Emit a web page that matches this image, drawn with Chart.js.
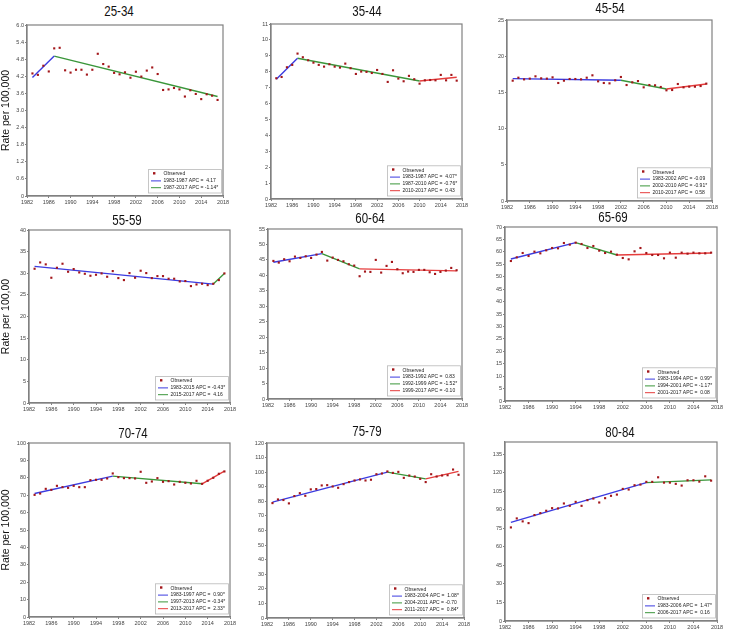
<!DOCTYPE html>
<html>
<head>
<meta charset="utf-8">
<script src="https://cdn.jsdelivr.net/npm/chart.js@4.4.1/dist/chart.umd.min.js"></script>
<style>
  body { margin: 0; background: #fff; width: 741px; height: 633px; position: relative; overflow: hidden; }
  .panel { position: absolute; }
  .title {
    position: absolute; transform: translate(-50%, -50%) scaleX(0.82); white-space: nowrap;
    font-family: "Liberation Sans", Arial, sans-serif;
    font-size: 14px; color: #111;
  }
</style>
</head>
<body>
<script>
// Years of observation (x axis)
const years = [1983, 1984, 1985, 1986, 1987, 1988, 1989, 1990, 1991, 1992,
               1993, 1994, 1995, 1996, 1997, 1998, 1999, 2000, 2001, 2002,
               2003, 2004, 2005, 2006, 2007, 2008, 2009, 2010, 2011, 2012,
               2013, 2014, 2015, 2016, 2017];

// 25-34
const obs2534 = [4.30, 4.25, 4.57, 4.37, 5.18, 5.20, 4.41, 4.33, 4.43, 4.43,
                 4.26, 4.43, 4.99, 4.63, 4.54, 4.32, 4.27, 4.34, 4.15, 4.36,
                 4.19, 4.40, 4.51, 4.28, 3.72, 3.74, 3.79, 3.74, 3.49, 3.71,
                 3.58, 3.40, 3.57, 3.52, 3.37];
const joinYears2534 = [1983, 1987, 2017];
const joinRates2534 = [4.16, 4.91, 3.49];
const apc2534 = ['1983-1987 APC =  4.17', '1987-2017 APC = -1.14*'];

// 35-44
const obs3544 = [7.59, 7.67, 8.28, 8.43, 9.14, 8.91, 8.72, 8.57, 8.43, 8.32,
                 8.47, 8.32, 8.26, 8.51, 8.22, 7.86, 8.01, 7.99, 7.92, 8.11,
                 7.86, 7.36, 8.09, 7.57, 7.40, 7.74, 7.53, 7.25, 7.46, 7.48,
                 7.46, 7.80, 7.46, 7.80, 7.44];
const joinYears3544 = [1983, 1987, 2010, 2017];
const joinRates3544 = [7.53, 8.85, 7.42, 7.65];
const apc3544 = ['1983-1987 APC =  4.07*', '1987-2010 APC = -0.76*', '2010-2017 APC =  0.43'];

// 45-54
const obs4554 = [16.62, 17.03, 16.80, 16.90, 17.22, 16.94, 16.90, 17.08, 16.30, 16.62,
                 16.85, 16.85, 16.80, 17.03, 17.36, 16.53, 16.30, 16.25, 16.67, 17.13,
                 16.02, 16.39, 16.57, 15.70, 16.02, 15.98, 15.75, 15.29, 15.33, 16.16,
                 15.70, 15.79, 15.79, 15.88, 16.21];
const joinYears4554 = [1983, 2002, 2010, 2017];
const joinRates4554 = [16.90, 16.67, 15.47, 16.16];
const apc4554 = ['1983-2002 APC = -0.09', '2002-2010 APC = -0.91*', '2010-2017 APC =  0.58'];

// 55-59
const obs5559 = [31.04, 32.50, 32.05, 28.96, 31.27, 32.20, 30.35, 30.97, 30.19, 29.88,
                 29.42, 29.65, 29.96, 29.19, 30.50, 28.88, 28.42, 30.04, 28.96, 30.58,
                 30.04, 28.88, 29.34, 29.34, 28.73, 28.73, 28.11, 28.19, 27.03, 27.41,
                 27.57, 27.26, 27.57, 28.42, 29.96];
const joinYears5559 = [1983, 2015, 2017];
const joinRates5559 = [31.58, 27.49, 29.96];
const apc5559 = ['1983-2015 APC = -0.43*', '2015-2017 APC =  4.16'];

// 60-64
const obs6064 = [44.67, 44.13, 45.21, 44.56, 46.07, 45.64, 46.18, 45.64, 46.72, 47.58,
                 44.78, 45.75, 45.00, 44.56, 43.60, 43.16, 39.72, 41.23, 41.12, 45.00,
                 40.90, 43.06, 44.35, 41.98, 40.69, 41.23, 41.12, 41.77, 41.77, 41.01,
                 40.47, 41.12, 41.55, 42.41, 41.66];
const joinYears6064 = [1983, 1992, 1999, 2017];
const joinRates6064 = [44.24, 47.04, 42.09, 41.44];
const apc6064 = ['1983-1992 APC =  0.83', '1992-1999 APC = -1.52*', '1999-2017 APC = -0.10'];

// 65-69
const obs6569 = [56.32, 57.80, 59.54, 58.33, 60.08, 59.41, 60.61, 61.55, 61.42, 63.56,
                 62.89, 63.70, 63.16, 61.55, 62.36, 60.48, 59.54, 60.08, 58.87, 57.53,
                 56.99, 60.21, 61.55, 59.54, 58.74, 58.74, 57.40, 59.68, 57.66, 59.68,
                 59.27, 59.68, 59.41, 59.41, 59.68];
const joinYears6569 = [1983, 1994, 2001, 2017];
const joinRates6569 = [57.13, 63.70, 58.74, 59.54];
const apc6569 = ['1983-1994 APC =  0.99*', '1994-2001 APC = -1.17*', '2001-2017 APC =  0.08'];

// 70-74
const obs7074 = [70.19, 70.96, 73.65, 73.08, 75.38, 74.62, 74.23, 75.38, 74.62, 74.62,
                 78.65, 78.85, 78.85, 79.62, 82.50, 80.38, 79.81, 79.81, 79.62, 83.46,
                 77.12, 77.88, 79.81, 77.69, 78.08, 76.15, 77.69, 77.12, 76.73, 78.27,
                 76.54, 78.30, 80.00, 82.31, 83.65];
const joinYears7074 = [1983, 1997, 2013, 2017];
const joinRates7074 = [70.96, 80.96, 76.54, 83.85];
const apc7074 = ['1983-1997 APC =  0.90*', '1997-2013 APC = -0.34*', '2013-2017 APC =  2.33*'];

// 75-79
const obs7579 = [78.8, 81.3, 80.9, 78.6, 83.6, 85.6, 83.8, 88.2, 88.4, 90.9,
                 91.1, 90.2, 89.3, 91.8, 93.2, 94.3, 95.0, 94.3, 94.8, 98.6,
                 99.1, 100.5, 99.5, 100.2, 96.1, 97.7, 97.0, 95.4, 93.2, 98.6,
                 97.0, 97.7, 97.9, 101.8, 98.2];
const joinYears7579 = [1983, 2004, 2011, 2017];
const joinRates7579 = [79.5, 100.0, 95.4, 100.5];
const apc7579 = ['1983-2004 APC =  1.08*', '2004-2011 APC = -0.70', '2011-2017 APC =  0.84*'];

// 80-84
const obs8084 = [75.8, 83.1, 80.7, 79.3, 85.8, 87.4, 89.3, 91.4, 91.2, 95.2,
                 93.3, 96.5, 93.3, 97.9, 99.2, 96.0, 99.5, 101.4, 102.4, 107.0,
                 106.5, 110.0, 110.5, 112.7, 112.7, 116.4, 112.1, 112.1, 111.1, 109.7,
                 114.0, 114.0, 112.9, 117.2, 113.7];
const joinYears8084 = [1983, 2006, 2017];
const joinRates8084 = [79.9, 112.1, 114.3];
const apc8084 = ['1983-2006 APC =  1.47*', '2006-2017 APC =  0.16'];

const segColors = ['#3b3be0', '#3a963a', '#e63c3c'];
const tickFont = { family: '"Liberation Sans", Arial, sans-serif', size: 5.5 };

// panel layout: column start, plot box [left, top, right, bottom], title centre
const panels = [
  { title: '25-34', obs: obs2534, jy: joinYears2534, jr: joinRates2534, apc: apc2534, yMax: 6, yStep: 0.6,
    yLabel: 'Rate per 100,000', col: 0, box: [27, 25, 223, 196], tx: 119, ty: 11 },
  { title: '35-44', obs: obs3544, jy: joinYears3544, jr: joinRates3544, apc: apc3544, yMax: 11, yStep: 1,
    col: 245, box: [271, 24, 462, 199], tx: 367, ty: 11 },
  { title: '45-54', obs: obs4554, jy: joinYears4554, jr: joinRates4554, apc: apc4554, yMax: 25, yStep: 5,
    col: 490, box: [507, 20, 712, 201], tx: 610, ty: 8 },
  { title: '55-59', obs: obs5559, jy: joinYears5559, jr: joinRates5559, apc: apc5559, yMax: 40, yStep: 5,
    yLabel: 'Rate per 100,00', col: 0, box: [29, 230, 230, 403], tx: 127, ty: 220 },
  { title: '60-64', obs: obs6064, jy: joinYears6064, jr: joinRates6064, apc: apc6064, yMax: 55, yStep: 5,
    col: 245, box: [268, 229, 462, 399], tx: 370, ty: 218 },
  { title: '65-69', obs: obs6569, jy: joinYears6569, jr: joinRates6569, apc: apc6569, yMax: 70, yStep: 5,
    col: 490, box: [505, 227, 717, 401], tx: 613, ty: 217 },
  { title: '70-74', obs: obs7074, jy: joinYears7074, jr: joinRates7074, apc: apc7074, yMax: 100, yStep: 10,
    yLabel: 'Rate per 100,000', col: 0, box: [29, 443, 230, 617], tx: 133, ty: 433 },
  { title: '75-79', obs: obs7579, jy: joinYears7579, jr: joinRates7579, apc: apc7579, yMax: 120, yStep: 10,
    col: 245, box: [267, 443, 464, 618], tx: 367, ty: 431 },
  { title: '80-84', obs: obs8084, jy: joinYears8084, jr: joinRates8084, apc: apc8084, yMax: 145, yStep: 15,
    col: 490, box: [505, 442, 717, 621], tx: 620, ty: 432 }
];

// grey frame around the plot area
const frame = {
  id: 'frame',
  afterDraw(chart) {
    const a = chart.chartArea, ctx = chart.ctx;
    ctx.save();
    ctx.strokeStyle = '#808080';
    ctx.lineWidth = 1.2;
    ctx.strokeRect(a.left, a.top, a.right - a.left, a.bottom - a.top);
    ctx.restore();
  }
};

// small boxed legend in the lower right corner
const boxLegend = {
  id: 'boxLegend',
  afterDraw(chart) {
    const ctx = chart.ctx, a = chart.chartArea, ds = chart.data.datasets;
    const rowH = 6.8, w = 73, h = ds.length * rowH + 3;
    const x0 = a.right - 1.5 - w, y0 = a.bottom - 3 - h;
    ctx.save();
    ctx.fillStyle = '#fff';
    ctx.fillRect(x0, y0, w, h);
    ctx.strokeStyle = '#b8b8b8';
    ctx.lineWidth = 0.8;
    ctx.strokeRect(x0, y0, w, h);
    ctx.font = '5px "Liberation Sans", Arial, sans-serif';
    ctx.textBaseline = 'middle';
    ds.forEach((d, i) => {
      const cy = y0 + 4.5 + i * rowH;
      if (i === 0) {
        ctx.fillStyle = d.backgroundColor;
        ctx.fillRect(x0 + 4.5, cy - 2, 2.4, 2.4);
      } else {
        ctx.strokeStyle = d.borderColor;
        ctx.lineWidth = 1;
        ctx.beginPath();
        ctx.moveTo(x0 + 2.5, cy);
        ctx.lineTo(x0 + 12.5, cy);
        ctx.stroke();
      }
      ctx.fillStyle = '#222';
      ctx.fillText(d.label, x0 + 15, cy);
    });
    ctx.restore();
  }
};

function makePanel(p) {
  const padTop = 6, padRight = 9, xH = 12;
  const yW = p.box[0] - p.col;
  const wrap = document.createElement('div');
  wrap.className = 'panel';
  wrap.style.left = p.col + 'px';
  wrap.style.top = (p.box[1] - padTop) + 'px';
  wrap.style.width = (p.box[2] - p.col + padRight) + 'px';
  wrap.style.height = (p.box[3] - p.box[1] + padTop + xH) + 'px';
  const canvas = document.createElement('canvas');
  wrap.appendChild(canvas);
  document.body.appendChild(wrap);

  const datasets = [{
    type: 'scatter',
    label: 'Observed',
    data: years.map((y, i) => ({ x: y, y: p.obs[i] })),
    pointStyle: 'rect',
    pointRadius: 1.5,
    backgroundColor: '#a3161a',
    borderWidth: 0,
    order: 0
  }];
  p.apc.forEach((lab, i) => {
    datasets.push({
      type: 'line',
      label: lab,
      data: [{ x: p.jy[i], y: p.jr[i] }, { x: p.jy[i + 1], y: p.jr[i + 1] }],
      borderColor: segColors[i],
      borderWidth: 1.4,
      pointRadius: 0,
      fill: false,
      order: 1
    });
  });

  new Chart(canvas, {
    type: 'scatter',
    data: { datasets },
    options: {
      responsive: true,
      maintainAspectRatio: false,
      animation: false,
      layout: { padding: { top: padTop, right: padRight, left: 0, bottom: 0 } },
      plugins: { legend: { display: false }, tooltip: { enabled: false } },
      scales: {
        x: {
          type: 'linear', min: 1982, max: 2018,
          ticks: { stepSize: 4, font: tickFont, color: '#444', padding: 1, maxRotation: 0, autoSkip: false,
                   callback: v => String(v) },
          grid: { drawOnChartArea: false, tickLength: 2, color: '#808080' },
          border: { color: '#808080', width: 1.2 },
          afterFit: s => { s.height = xH; }
        },
        y: {
          min: 0, max: p.yMax,
          ticks: { stepSize: p.yStep, font: tickFont, color: '#444', padding: 1 },
          afterBuildTicks: s => { s.ticks = s.ticks.filter(t => Math.abs(t.value / p.yStep - Math.round(t.value / p.yStep)) < 1e-6); },
          grid: { drawOnChartArea: false, tickLength: 2, color: '#808080' },
          border: { color: '#808080', width: 1.2 },
          title: { display: !!p.yLabel, text: p.yLabel || '', color: '#111', padding: 0,
                   font: { family: '"Liberation Sans", Arial, sans-serif', size: 10.5 } },
          afterFit: s => { s.width = yW; }
        }
      }
    },
    plugins: [frame, boxLegend]
  });

  const t = document.createElement('div');
  t.className = 'title';
  t.textContent = p.title;
  t.style.left = p.tx + 'px';
  t.style.top = p.ty + 'px';
  document.body.appendChild(t);
}

panels.forEach(makePanel);
</script>
</body>
</html>
